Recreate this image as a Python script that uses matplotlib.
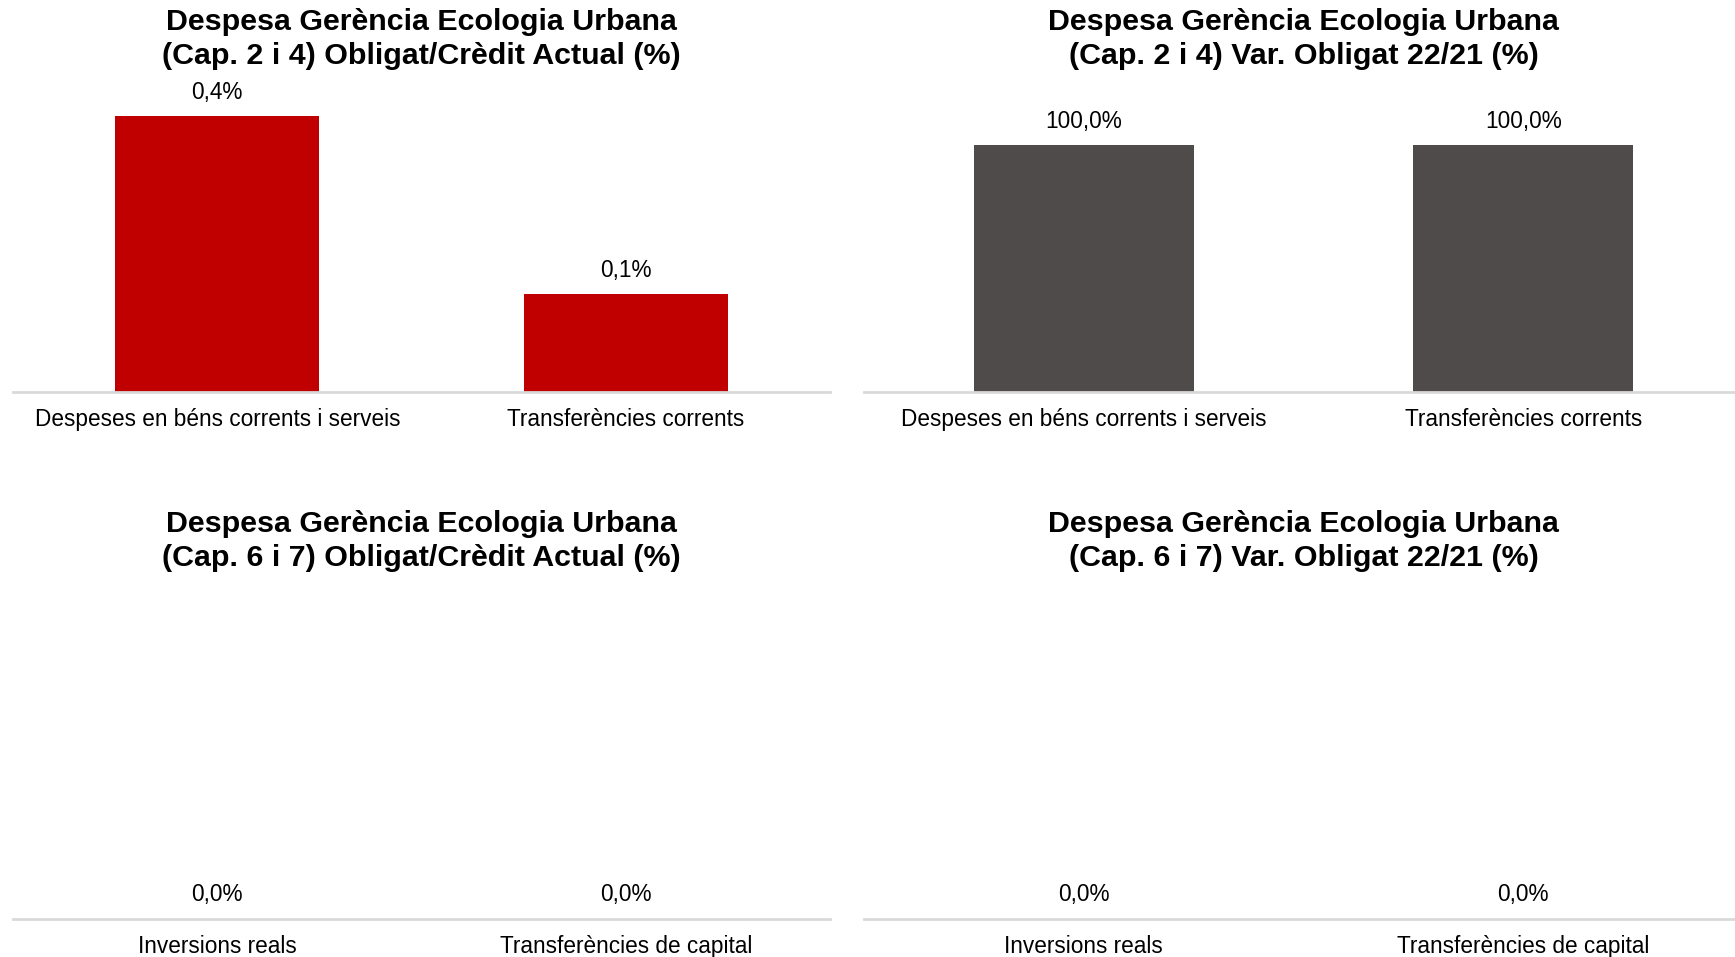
import matplotlib.pyplot as plt

plt.rcParams['font.family'] = ['Liberation Sans', 'DejaVu Sans']

cats_24 = ['Despeses en béns corrents i serveis', 'Transferències corrents']
cats_67 = ['Inversions reals', 'Transferències de capital']

oblig_24 = [0.42, 0.149]   # % obligat / credit actual
var_24 = [100.0, 100.0]    # % var. obligat 22/21
oblig_67 = [0.0, 0.0]
var_67 = [0.0, 0.0]

titles = [
    'Despesa Gerència Ecologia Urbana\n(Cap. 2 i 4) Obligat/Crèdit Actual (%)',
    'Despesa Gerència Ecologia Urbana\n(Cap. 2 i 4) Var. Obligat 22/21 (%)',
    'Despesa Gerència Ecologia Urbana\n(Cap. 6 i 7) Obligat/Crèdit Actual (%)',
    'Despesa Gerència Ecologia Urbana\n(Cap. 6 i 7) Var. Obligat 22/21 (%)',
]

W, H = 1735, 957
fig = plt.figure(figsize=(W / 100, H / 100), dpi=100)


def px_axes(x0, x1, ytop, ybot):
    return fig.add_axes([x0 / W, 1 - ybot / H, (x1 - x0) / W, (ybot - ytop) / H])


def fmt(v):
    return f'{v:.1f}%'.replace('.', ',')


def draw(ax, cats, vals, color, ymax, title, title_yc):
    ax.bar(range(len(cats)), vals, width=0.5, color=color)
    ax.set_xlim(-0.5, len(cats) - 0.5)
    ax.set_ylim(0, ymax)
    for i, v in enumerate(vals):
        ax.annotate(fmt(v), (i, v), xytext=(0, 9), textcoords='offset points',
                    ha='center', va='bottom', fontsize=16.3)
    ax.set_xticks(range(len(cats)))
    ax.set_xticklabels(cats, fontsize=16.3)
    ax.tick_params(axis='x', length=0, pad=11.5)
    ax.set_yticks([])
    for s in ['top', 'right', 'left']:
        ax.spines[s].set_visible(False)
    ax.spines['bottom'].set_color('#D9D9D9')
    ax.spines['bottom'].set_linewidth(2)
    pos = ax.get_position()
    fig.text((pos.x0 + pos.x1) / 2, 1 - title_yc / H, title, ha='center', va='center',
             fontsize=21.9, fontweight='bold', linespacing=1.25)


ax1 = px_axes(13, 830, 100, 392)
draw(ax1, cats_24, oblig_24, '#C00000', 0.42 * 292 / 276, titles[0], 39)

ax2 = px_axes(864, 1743, 100, 392)
draw(ax2, cats_24, var_24, '#4F4B4B', 100 * 292 / 247, titles[1], 39)

ax3 = px_axes(13, 830, 620, 919)
draw(ax3, cats_67, oblig_67, '#C00000', 1, titles[2], 541)

ax4 = px_axes(864, 1743, 620, 919)
draw(ax4, cats_67, var_67, '#4F4B4B', 1, titles[3], 541)

fig.savefig('out.png', dpi=100)
